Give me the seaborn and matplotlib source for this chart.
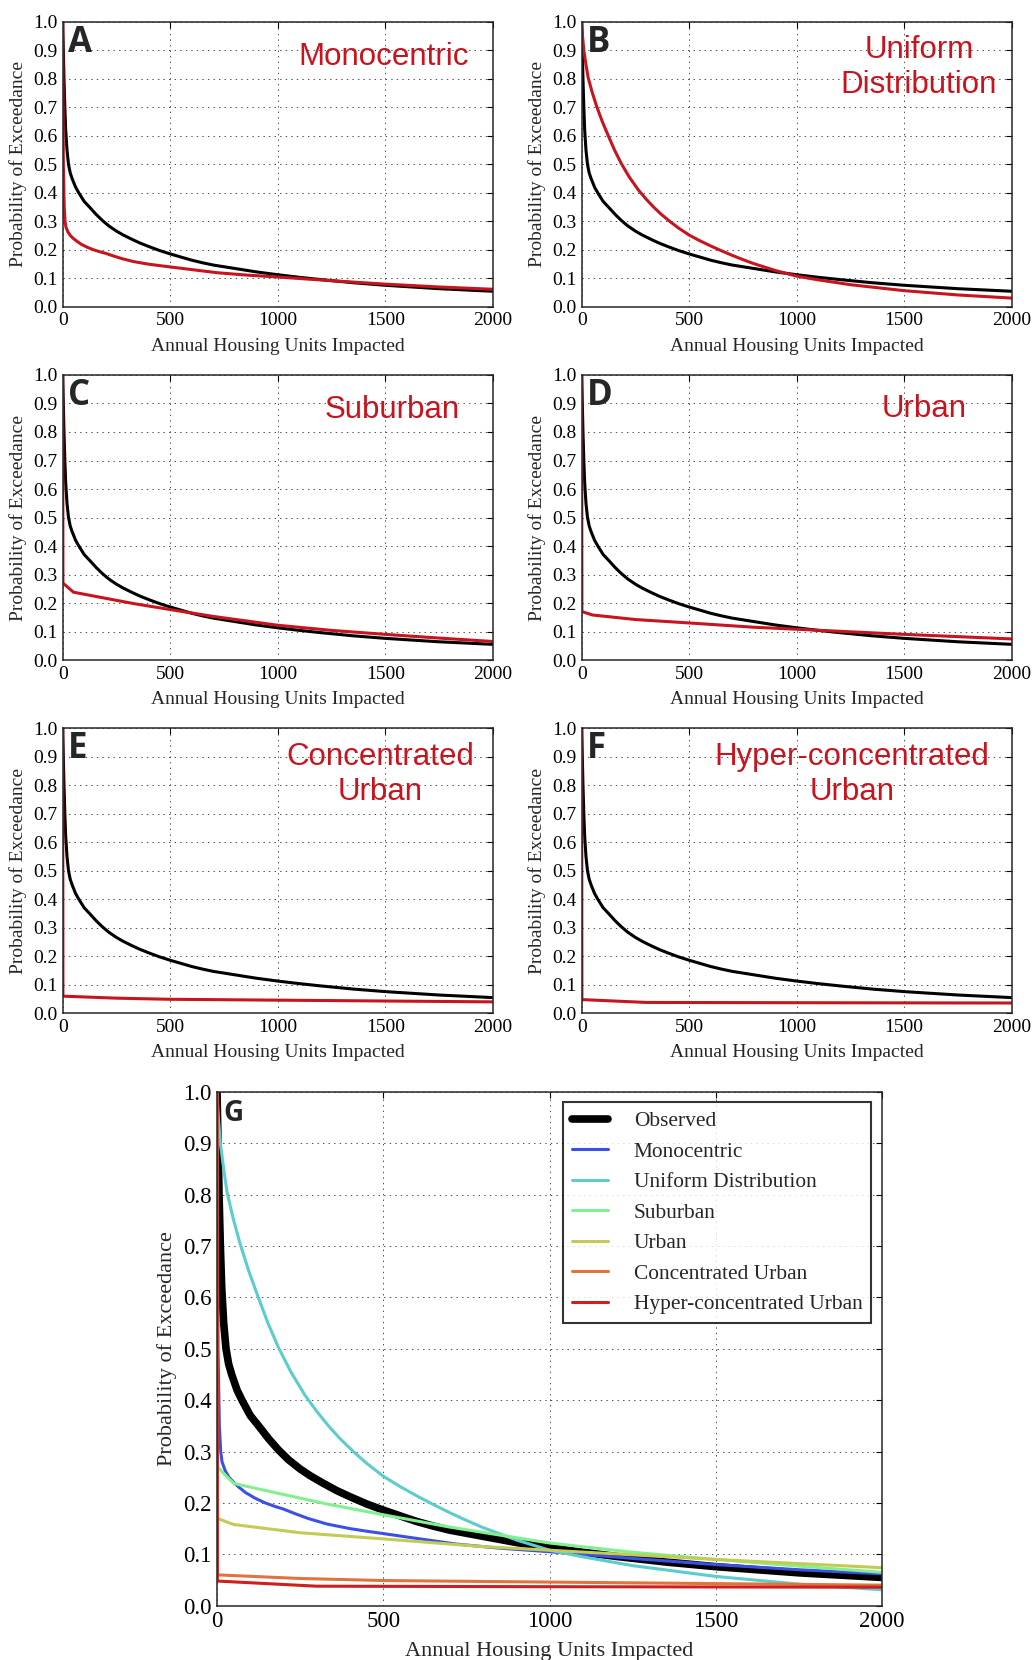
import numpy as np
import pandas as pd
import seaborn as sns
from matplotlib import pyplot as plt

# exceedance curves (x = annual housing units impacted)
obs_x = [0, 3, 6, 10, 14, 20, 27, 35, 44, 60, 75, 100, 125, 155, 185, 215, 250, 280, 320,
         360, 400, 450, 500, 550, 600, 650, 700, 800, 900, 1000, 1100, 1200, 1350, 1500,
         1750, 2000]
obs_y = [1.0, 0.9, 0.8, 0.7, 0.62, 0.55, 0.5, 0.47, 0.45, 0.42, 0.4, 0.37, 0.35, 0.325, 0.303,
         0.284, 0.266, 0.253, 0.238, 0.224, 0.212, 0.198, 0.186, 0.175, 0.164, 0.155, 0.147,
         0.135, 0.123, 0.113, 0.104, 0.096, 0.085, 0.076, 0.064, 0.055]

mono_x = [0, 3, 7, 11, 15, 25, 36, 50, 65, 86, 115, 145, 175, 200, 235, 273, 330, 400, 450,
          504, 600, 719, 850, 1000, 1250, 1500, 1750, 2000]
mono_y = [1.0, 0.5, 0.35, 0.3, 0.28, 0.262, 0.25, 0.24, 0.231, 0.22, 0.209, 0.2, 0.193, 0.188,
          0.179, 0.17, 0.159, 0.15, 0.145, 0.14, 0.131, 0.12, 0.112, 0.105, 0.092, 0.08,
          0.07, 0.062]

unif_x = [0, 4, 10, 20, 30, 48, 69, 95, 124, 153, 185, 222, 264, 300, 335, 370, 410, 450,
          500, 550, 600, 650, 700, 750, 800, 900, 1000, 1100, 1250, 1500, 1750, 2000]
unif_y = [1.0, 0.95, 0.9, 0.85, 0.805, 0.755, 0.705, 0.652, 0.6, 0.55, 0.502, 0.455, 0.41,
          0.378, 0.35, 0.325, 0.3, 0.277, 0.252, 0.232, 0.214, 0.197, 0.181, 0.166, 0.152,
          0.128, 0.108, 0.095, 0.078, 0.057, 0.042, 0.031]

sub_x = [0, 1, 50, 175, 330, 500, 700, 1000, 1250, 1500, 1750, 2000]
sub_y = [1.0, 0.27, 0.238, 0.22, 0.198, 0.177, 0.153, 0.122, 0.104, 0.09, 0.077, 0.065]

urb_x = [0, 1, 50, 250, 500, 800, 1000, 1250, 1500, 1750, 2000]
urb_y = [1.0, 0.17, 0.158, 0.142, 0.13, 0.115, 0.108, 0.099, 0.09, 0.082, 0.074]

conc_x = [0, 1, 250, 500, 1000, 1500, 2000]
conc_y = [1.0, 0.06, 0.053, 0.049, 0.046, 0.043, 0.04]

hyper_x = [0, 1, 150, 300, 1000, 2000]
hyper_y = [1.0, 0.048, 0.043, 0.038, 0.037, 0.036]

scenarios = ["Monocentric", "Uniform Distribution", "Suburban", "Urban",
             "Concentrated Urban", "Hyper-concentrated Urban"]
scen_x = [mono_x, unif_x, sub_x, urb_x, conc_x, hyper_x]
scen_y = [mono_y, unif_y, sub_y, urb_y, conc_y, hyper_y]
panel_letters = ["A", "B", "C", "D", "E", "F"]
panel_titles = ["Monocentric", "Uniform\nDistribution", "Suburban", "Urban",
                "Concentrated\nUrban", "Hyper-concentrated\nUrban"]
title_pos = [(0.747, 0.876), (0.784, 0.84), (0.766, 0.877), (0.797, 0.882),
             (0.738, 0.838), (0.629, 0.838)]
g_colors = ["#3c50e6", "#5ccccc", "#82f08c", "#c2cc55", "#e0743c", "#d01e1e"]

RED = "#c8141e"
xticks = [0, 500, 1000, 1500, 2000]
yticks = [0.0, 0.1, 0.2, 0.3, 0.4, 0.5, 0.6, 0.7, 0.8, 0.9, 1.0]

sns.set_style("white")
plt.rcParams['font.family'] = ['Liberation Serif', 'DejaVu Serif']
plt.rcParams['lines.scale_dashes'] = False


def style_axes(ax, tick_fs, label_fs, lpad):
    ax.set_xlim(0, 2000)
    ax.set_ylim(0, 1.0)
    ax.set_xticks(xticks)
    ax.set_yticks(yticks)
    ax.set_yticklabels([f"{v:.1f}" for v in yticks])
    ax.grid(True, color="0.3", linestyle=(0, (1, 3)), linewidth=0.7)
    ax.tick_params(direction="in", top=True, right=True, length=4, width=0.8,
                   labelsize=tick_fs, pad=4, colors="black")
    for s in ax.spines.values():
        s.set_color("0.15")
        s.set_linewidth(1.1)
    ax.set_xlabel("Annual Housing Units Impacted", fontsize=label_fs, labelpad=lpad)
    ax.set_ylabel("Probability of Exceedance", fontsize=label_fs, labelpad=4)


def main():
    fig = plt.figure(figsize=(10.33, 16.6), dpi=100)
    obs = pd.DataFrame({"x": obs_x, "y": obs_y})

    lefts = [0.0607, 0.5631]
    bottoms = [0.8151, 0.6024, 0.3896]
    for i, name in enumerate(scenarios):
        ax = fig.add_axes([lefts[i % 2], bottoms[i // 2], 0.4163, 0.1717])
        df = pd.DataFrame({"x": scen_x[i], "y": scen_y[i]})
        sns.lineplot(data=obs, x="x", y="y", ax=ax, color="black", lw=2.2,
                     sort=False, estimator=None)
        sns.lineplot(data=df, x="x", y="y", ax=ax, color=RED, lw=2.2,
                     sort=False, estimator=None)
        style_axes(ax, 14, 14, 6)
        ax.text(0.012, 0.99, panel_letters[i], transform=ax.transAxes, ha="left",
                va="top", fontsize=25, fontweight="bold", family="Open Sans")
        tx, ty = title_pos[i]
        ax.text(tx, ty, panel_titles[i], transform=ax.transAxes, ha="center",
                va="center", fontsize=22.5, color=RED, family="Liberation Sans",
                multialignment="center")

    axg = fig.add_axes([0.2101, 0.0327, 0.6438, 0.3096])
    sns.lineplot(data=obs, x="x", y="y", ax=axg, color="black", lw=5.5,
                 sort=False, estimator=None, label="Observed")
    for i, name in enumerate(scenarios):
        df = pd.DataFrame({"x": scen_x[i], "y": scen_y[i]})
        sns.lineplot(data=df, x="x", y="y", ax=axg, color=g_colors[i], lw=2.2,
                     sort=False, estimator=None, label=name)
    style_axes(axg, 16.5, 16, 7)
    axg.text(0.009, 0.985, "G", transform=axg.transAxes, ha="left", va="top",
             fontsize=20, fontweight="bold", family="Open Sans")
    leg = axg.legend(loc="upper right", fontsize=15.4, frameon=True, fancybox=False,
                     edgecolor="black", handlelength=1.7, handletextpad=1.2,
                     labelspacing=0.49, borderaxespad=0.5, borderpad=0.42)
    leg.get_frame().set_linewidth(1.5)
    for h in leg.get_lines():
        h.set_linewidth(2.2)
    leg.get_lines()[0].set_linewidth(5.5)

    fig.savefig("out.png", dpi=100)


if __name__ == '__main__':
    main()
